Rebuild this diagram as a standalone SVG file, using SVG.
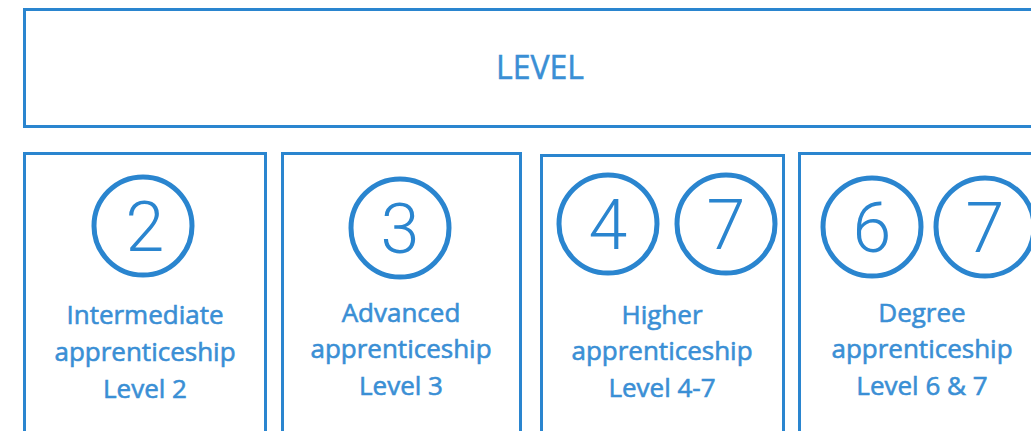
<svg xmlns="http://www.w3.org/2000/svg" width="1031" height="431" viewBox="0 0 1031 431">
<style>
.box{fill:#fff;stroke:#2a85cf;stroke-width:3}
.ring{fill:none;stroke:#2a85cf;stroke-width:5}
.num{font-family:Roboto,"Liberation Sans",sans-serif;font-weight:300;font-size:70px;fill:#2a85cf;text-anchor:middle}
.lbl{font-family:"Open Sans","Noto Sans",sans-serif;font-size:26px;fill:#3a8fd5;stroke:#3a8fd5;stroke-width:0.6;text-anchor:middle}
.title{font-family:"Open Sans","Noto Sans",sans-serif;font-size:32px;fill:#3a8fd5;stroke:#3a8fd5;stroke-width:0.5;text-anchor:middle}
</style>
<rect width="1031" height="431" fill="#fff"/>
<g id="level">
<rect class="box" x="24.5" y="9.5" width="1020" height="117"/>
<text class="title" x="540" y="79">LEVEL</text>
</g>
<g id="intermediate">
<rect class="box" x="24.5" y="153.5" width="241" height="290"/>
<circle class="ring" cx="143" cy="226" r="49"/>
<text class="num" x="145" y="251">2</text>
<text class="lbl" x="145" y="324">Intermediate</text>
<text class="lbl" x="145" y="361">apprenticeship</text>
<text class="lbl" x="145" y="398">Level 2</text>
</g>
<g id="advanced">
<rect class="box" x="282.5" y="153.5" width="238" height="290"/>
<circle class="ring" cx="400" cy="228" r="49"/>
<text class="num" x="400" y="253">3</text>
<text class="lbl" x="401" y="322">Advanced</text>
<text class="lbl" x="401" y="358">apprenticeship</text>
<text class="lbl" x="401" y="395">Level 3</text>
</g>
<g id="higher">
<rect class="box" x="541.5" y="155.5" width="242" height="290"/>
<circle class="ring" cx="608" cy="224" r="49"/>
<circle class="ring" cx="726" cy="224" r="49"/>
<text class="num" x="608" y="249">4</text>
<text class="num" x="726" y="249">7</text>
<text class="lbl" x="662" y="324">Higher</text>
<text class="lbl" x="662" y="360">apprenticeship</text>
<text class="lbl" x="662" y="397">Level 4-7</text>
</g>
<g id="degree">
<rect class="box" x="799.5" y="153.5" width="250" height="290"/>
<circle class="ring" cx="872" cy="227" r="49"/>
<circle class="ring" cx="985" cy="227" r="49"/>
<text class="num" x="872" y="252">6</text>
<text class="num" x="985" y="252">7</text>
<text class="lbl" x="922" y="322">Degree</text>
<text class="lbl" x="922" y="358">apprenticeship</text>
<text class="lbl" x="922" y="395">Level 6 &amp; 7</text>
</g>
<g id="connectors"/>
</svg>
